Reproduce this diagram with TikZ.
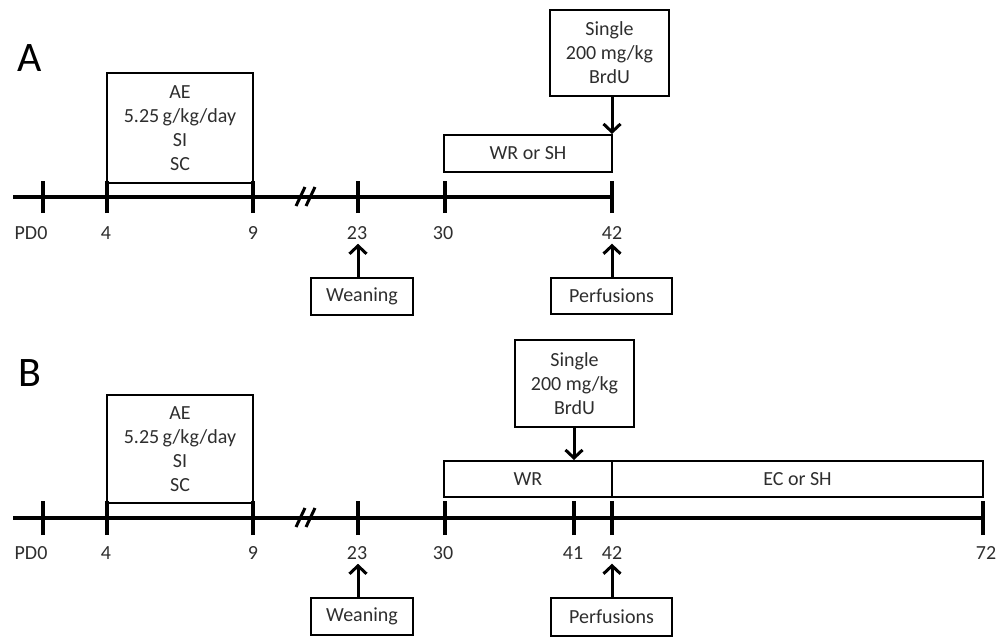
\documentclass[tikz,border=0pt]{standalone}
\usepackage{fontspec}
\setmainfont{Carlito}
\usetikzlibrary{arrows.meta}
\definecolor{txt}{HTML}{2E2E2E}
\begin{document}
\begin{tikzpicture}[x=1pt,y=-1pt,
  every node/.style={text=txt},
  lbl/.style={font=\fontsize{20}{24}\selectfont, inner sep=4pt},
  big/.style={font=\fontsize{42}{48}\selectfont, text=black, inner sep=0pt},
  bx/.style={draw, line width=2pt, inner sep=0pt, align=center,
     font=\fontsize{20}{24}\selectfont},
  axis/.style={line width=4pt},
  tk/.style={line width=4pt},
  thin/.style={line width=2pt},
  arr/.style={line width=3pt, -{Straight Barb[length=8pt,width=17pt,line width=3pt]}},
  brk/.style={line width=3pt}
]
\useasboundingbox (0,0) rectangle (1000,638);

% ---------------- Panel A ----------------
\node[big] (A) at (30,58) {A};
\coordinate (a0s) at (13,197);
\coordinate (a0) at (43,197);
\coordinate (a4) at (107,197);
\coordinate (a9) at (253,197);
\coordinate (a23) at (358,197);
\coordinate (a30) at (445,197);
\coordinate (a42) at (612,197);

\draw[axis] (a0s) -- (a42);
\foreach \p in {a0,a4,a9,a23,a30,a42}
  \draw[tk] ([yshift=-16pt]\p) -- ([yshift=16pt]\p);
\draw[brk] (296,206) -- (305,187);
\draw[brk] (306,206) -- (315,187);

\node[lbl] (lA0) at (31,233) {PD0};
\node[lbl] (lA4) at (106,233) {4};
\node[lbl] (lA9) at (253,233) {9};
\node[lbl] (lA23) at (357,233) {23};
\node[lbl] (lA30) at (443,233) {30};
\node[lbl] (lA42) at (612,233) {42};

\node[bx, minimum width=146pt, minimum height=110pt] (aeA) at (180,128)
  {AE\\5.25\,g/kg/day\\SI\\SC};
\draw[thin] (aeA.south west) -- (aeA.south west |- a4);
\draw[thin] (aeA.south east) -- (aeA.south east |- a9);

\node[bx, minimum width=168pt, minimum height=37pt] (wrA) at (528,153.5) {WR or SH};
\node[bx, minimum width=119pt, minimum height=86pt] (singleA) at (609.5,53)
  {Single\\200 mg/kg\\BrdU};
\node[bx, minimum width=102pt, minimum height=37pt] (weanA) at (362,296.5) {Weaning};
\node[bx, minimum width=121pt, minimum height=36pt] (perfA) at (611.5,296) {Perfusions};

\draw[arr] (singleA.south -| a42) -- (wrA.north -| a42);
\draw[arr] (weanA.north -| a23) -- (lA23.south -| a23);
\draw[arr] (perfA.north -| a42) -- (lA42.south -| a42);

% ---------------- Panel B ----------------
\node[big] (B) at (30,373) {B};
\coordinate (b0s) at (13,518);
\coordinate (b0) at (43,518);
\coordinate (b4) at (107,518);
\coordinate (b9) at (253,518);
\coordinate (b23) at (358,518);
\coordinate (b30) at (445,518);
\coordinate (b41) at (574,518);
\coordinate (b42) at (612,518);
\coordinate (b72) at (983,518);

\draw[axis] (b0s) -- (b72);
\foreach \p in {b0,b4,b9,b23,b30,b41,b42,b72}
  \draw[tk] ([yshift=-17pt]\p) -- ([yshift=17pt]\p);
\draw[brk] (296,527) -- (305,508);
\draw[brk] (306,527) -- (315,508);

\node[lbl] (lB0) at (31,553) {PD0};
\node[lbl] (lB4) at (106,553) {4};
\node[lbl] (lB9) at (253,553) {9};
\node[lbl] (lB23) at (357,553) {23};
\node[lbl] (lB30) at (443,553) {30};
\node[lbl] (lB41) at (573,553) {41};
\node[lbl] (lB42) at (612,553) {42};
\node[lbl] (lB72) at (986,553) {72};

\node[bx, minimum width=146pt, minimum height=108pt] (aeB) at (180,449)
  {AE\\5.25\,g/kg/day\\SI\\SC};
\draw[thin] (aeB.south west) -- (aeB.south west |- b4);
\draw[thin] (aeB.south east) -- (aeB.south east |- b9);

\node[bx, minimum width=168pt, minimum height=36pt] (wrB) at (528,479) {WR};
\node[bx, minimum width=371pt, minimum height=36pt] (ecB) at (797.5,479) {EC or SH};
\node[bx, minimum width=119pt, minimum height=87pt] (singleB) at (574.5,383.5)
  {Single\\200 mg/kg\\BrdU};
\node[bx, minimum width=102pt, minimum height=37pt] (weanB) at (362,616.5) {Weaning};
\node[bx, minimum width=121pt, minimum height=38pt] (perfB) at (611.5,617) {Perfusions};

\draw[arr] (singleB.south -| b41) -- (wrB.north -| b41);
\draw[arr] (weanB.north -| b23) -- (lB23.south -| b23);
\draw[arr] (perfB.north -| b42) -- (lB42.south -| b42);
\end{tikzpicture}
\end{document}
